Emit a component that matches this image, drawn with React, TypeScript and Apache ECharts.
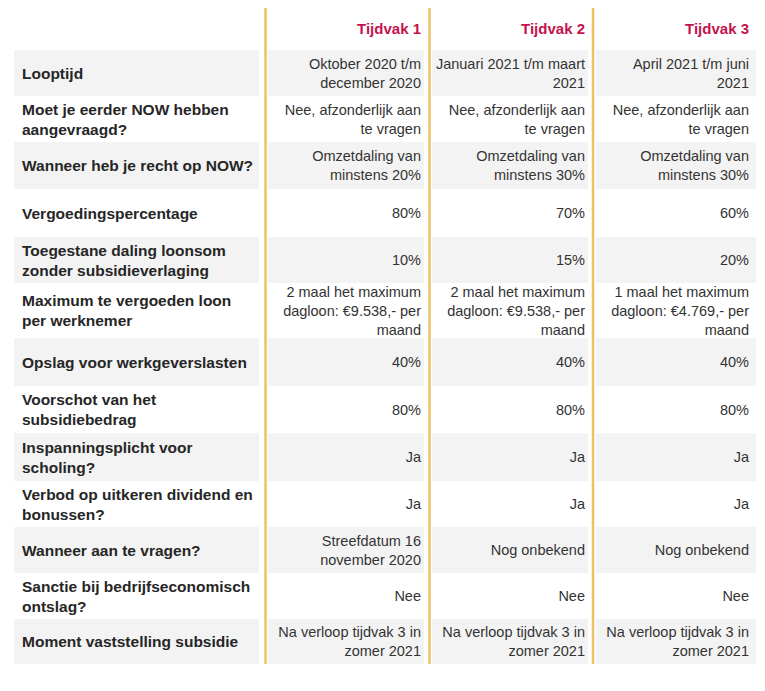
import React, { useEffect, useRef } from "react";
import * as echarts from "echarts";

// ---- data ----
const headers = ["Tijdvak 1", "Tijdvak 2", "Tijdvak 3"];
const rowLabels = [
  "Looptijd",
  "Moet je eerder NOW hebben\naangevraagd?",
  "Wanneer heb je recht op NOW?",
  "Vergoedingspercentage",
  "Toegestane daling loonsom\nzonder subsidieverlaging",
  "Maximum te vergoeden loon\nper werknemer",
  "Opslag voor werkgeverslasten",
  "Voorschot van het\nsubsidiebedrag",
  "Inspanningsplicht voor\nscholing?",
  "Verbod op uitkeren dividend en\nbonussen?",
  "Wanneer aan te vragen?",
  "Sanctie bij bedrijfseconomisch\nontslag?",
  "Moment vaststelling subsidie",
];
const tijdvak1 = [
  "Oktober 2020 t/m\ndecember 2020",
  "Nee, afzonderlijk aan\nte vragen",
  "Omzetdaling van\nminstens 20%",
  "80%",
  "10%",
  "2 maal het maximum\ndagloon: €9.538,- per\nmaand",
  "40%",
  "80%",
  "Ja",
  "Ja",
  "Streefdatum 16\nnovember 2020",
  "Nee",
  "Na verloop tijdvak 3 in\nzomer 2021",
];
const tijdvak2 = [
  "Januari 2021 t/m maart\n2021",
  "Nee, afzonderlijk aan\nte vragen",
  "Omzetdaling van\nminstens 30%",
  "70%",
  "15%",
  "2 maal het maximum\ndagloon: €9.538,- per\nmaand",
  "40%",
  "80%",
  "Ja",
  "Ja",
  "Nog onbekend",
  "Nee",
  "Na verloop tijdvak 3 in\nzomer 2021",
];
const tijdvak3 = [
  "April 2021 t/m juni\n2021",
  "Nee, afzonderlijk aan\nte vragen",
  "Omzetdaling van\nminstens 30%",
  "60%",
  "20%",
  "1 maal het maximum\ndagloon: €4.769,- per\nmaand",
  "40%",
  "80%",
  "Ja",
  "Ja",
  "Nog onbekend",
  "Nee",
  "Na verloop tijdvak 3 in\nzomer 2021",
];

// ---- layout ----
const rowEdges = [50, 96, 142, 189, 237, 283, 338, 386, 433, 481, 527, 573, 619, 664];
const bandSegments: [number, number][] = [
  [14, 259],
  [268, 424],
  [432, 588],
  [596, 756],
];
const dividerX = [265.5, 429.5, 593];
const valueRight = [421, 585, 749];
const FONT = "Liberation Sans, Arial, Helvetica, sans-serif";
const RED = "#c4134b";
const GOLD = "#ebc262";
const GREY = "#f3f3f3";
const TEXT = "#262626";
const VALTEXT = "#333333";

export default function App() {
  const ref = useRef<HTMLDivElement>(null);
  useEffect(() => {
    document.body.style.margin = "0";
    const chart = echarts.init(ref.current!, null, { renderer: "svg" });
    const cols = [tijdvak1, tijdvak2, tijdvak3];
    const elements: any[] = [];
    // bands
    rowLabels.forEach((_, i) => {
      if (i % 2 !== 0) return;
      bandSegments.forEach(([x0, x1]) => {
        elements.push({
          type: "rect",
          shape: { x: x0, y: rowEdges[i], width: x1 - x0, height: rowEdges[i + 1] - rowEdges[i] },
          style: { fill: GREY },
          silent: true,
        });
      });
    });
    // dividers
    dividerX.forEach((x) => {
      elements.push({
        type: "line",
        shape: { x1: x, y1: 8, x2: x, y2: 664 },
        style: { stroke: GOLD, lineWidth: 2.5 },
        silent: true,
      });
    });
    // headers
    headers.forEach((h, c) => {
      elements.push({
        type: "text",
        x: valueRight[c],
        y: 28,
        style: {
          text: h,
          fill: RED,
          fontFamily: FONT,
          fontSize: 15,
          fontWeight: "bold",
          align: "right",
          verticalAlign: "middle",
        },
      });
    });
    // labels & values
    rowLabels.forEach((label, i) => {
      const cy = (rowEdges[i] + rowEdges[i + 1]) / 2;
      elements.push({
        type: "text",
        x: 22,
        y: cy,
        style: {
          text: label,
          fill: TEXT,
          fontFamily: FONT,
          fontSize: 15.5,
          fontWeight: "bold",
          lineHeight: 20,
          align: "left",
          verticalAlign: "middle",
        },
      });
      cols.forEach((col, c) => {
        elements.push({
          type: "text",
          x: valueRight[c],
          y: cy,
          style: {
            text: col[i],
            fill: VALTEXT,
            fontFamily: FONT,
            fontSize: 14.5,
            lineHeight: 19,
            align: "right",
            verticalAlign: "middle",
          },
        });
      });
    });
    chart.setOption({
      animation: false,
      backgroundColor: "#ffffff",
      graphic: { elements },
    });
    return () => chart.dispose();
  }, []);
  return <div ref={ref} style={{ width: 765, height: 691 }} />;
}
